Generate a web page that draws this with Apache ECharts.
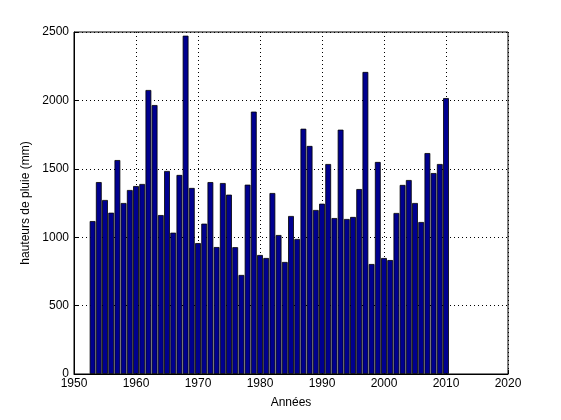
<!DOCTYPE html>
<html>
<head>
<meta charset="utf-8">
<script src="https://cdn.jsdelivr.net/npm/echarts@6/dist/echarts.min.js"></script>
<style>
  html, body { margin: 0; padding: 0; background: #fff; }
  #chart { width: 561px; height: 420px; }
</style>
</head>
<body>
<div id="chart"></div>
<script>
// annual rainfall, 1953 -> 2010
const years = [];
for (let y = 1953; y <= 2010; y++) years.push(y);
const rain = [
  1118, 1403, 1272, 1179, 1564, 1250, 1345, 1374, 1389, 2076,
  1966, 1162, 1484, 1033, 1455, 2473, 1360, 957, 1099, 1403,
  928, 1396, 1311, 927, 724, 1384, 1918, 870, 848, 1323,
  1016, 819, 1155, 987, 1793, 1667, 1199, 1245, 1535, 1140,
  1786, 1133, 1148, 1352, 2208, 804, 1550, 848, 833, 1177,
  1382, 1418, 1250, 1111, 1615, 1469, 1535, 2017
];
const xTicks = [1950, 1960, 1970, 1980, 1990, 2000, 2010, 2020];
const yTicks = [0, 500, 1000, 1500, 2000, 2500];

const font = "Liberation Sans";
const chart = echarts.init(document.getElementById("chart"));
chart.setOption({
  animation: false,
  backgroundColor: "#fff",
  grid: {
    left: 74,
    right: 53,
    top: 32,
    bottom: 46,
    show: true,
    borderColor: "#000",
    borderWidth: 1,
  },
  xAxis: {
    type: "value",
    min: xTicks[0],
    max: xTicks[xTicks.length - 1],
    interval: 10,
    name: "Années",
    nameLocation: "middle",
    nameGap: 23,
    nameTextStyle: { color: "#000", fontFamily: font, fontSize: 12 },
    axisLine: { show: true, lineStyle: { color: "#000" } },
    axisTick: { inside: true, length: 4, lineStyle: { color: "#000" } },
    axisLabel: { color: "#000", fontFamily: font, fontSize: 12, margin: 4, formatter: (v) => String(v) },
    splitLine: { show: true, lineStyle: { color: "#000", type: [1, 3], width: 1 } },
  },
  yAxis: {
    type: "value",
    min: yTicks[0],
    max: yTicks[yTicks.length - 1],
    interval: 500,
    name: "hauteurs de pluie (mm)",
    nameLocation: "middle",
    nameGap: 40,
    nameTextStyle: { color: "#000", fontFamily: font, fontSize: 12 },
    axisLine: { show: true, lineStyle: { color: "#000" } },
    axisTick: { inside: true, length: 4, lineStyle: { color: "#000" } },
    axisLabel: { color: "#000", fontFamily: font, fontSize: 12, margin: 5, formatter: (v) => String(v) },
    splitLine: { show: true, lineStyle: { color: "#000", type: [1, 3], width: 1 } },
  },
  series: [
    {
      type: "bar",
      data: years.map((y, i) => [y, rain[i]]),
      barWidth: 5.8,
      itemStyle: {
        color: "#00008f",
        borderColor: "#000",
        borderWidth: 0.8,
      },
    },
  ],
});
</script>
</body>
</html>
